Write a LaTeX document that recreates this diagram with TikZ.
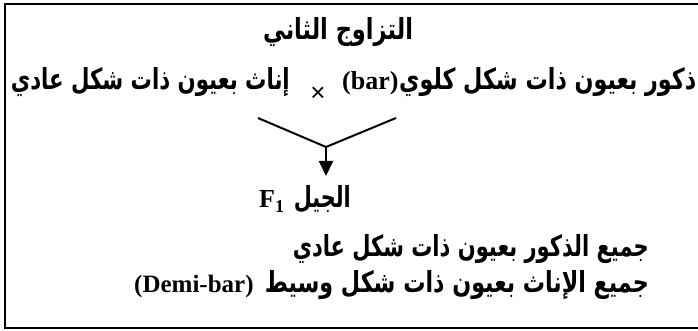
\documentclass[tikz,border=0pt]{standalone}
\usepackage{fontspec}
\usepackage{graphicx}
\usetikzlibrary{arrows.meta}
\TeXXeTstate=1
\setmainfont{Liberation Serif}
\newfontfamily\arbfont[Script=Arabic]{DejaVu Sans}
\newfontfamily\crossfont{Liberation Sans}
\newcommand{\fitw}[2]{\resizebox{#1}{\height}{#2}}
\newcommand{\artxt}[1]{{\arbfont\bfseries\beginR #1\endR}}
\begin{document}
\begin{tikzpicture}[x=1pt,y=-1pt,
  artext/.style={inner sep=0pt, font=\fontsize{29}{32}\selectfont},
  latext/.style={inner sep=0pt, font=\fontsize{26}{29}\selectfont\bfseries},
  thick line/.style={line width=2pt}]
\useasboundingbox (0,0) rectangle (698,331);
\clip (0,0) rectangle (698,331);
\fill[white] (0,0) rectangle (698,331);
% frame
\draw[thick line] (705,4) -- (4.5,4) -- (4.5,328) -- (705,328);
% title
\node[artext,anchor=base] (title) at (338,40) {\fitw{150pt}{\artxt{التزاوج الثاني}}};
% cross line
\node[artext,anchor=base east] (fem) at (290,90) {\fitw{279pt}{\artxt{إناث بعيون ذات شكل عادي}}};
\node[inner sep=0pt,font=\crossfont\fontsize{26}{26}\selectfont] (cross) at (318,94) {×};
\node[latext,anchor=base west] (bar) at (342,90) {(bar)};
\node[artext,anchor=base west] (male) at (399,90) {\fitw{297pt}{\artxt{ذكور بعيون ذات شكل كلوي}}};
% vee and arrow
\coordinate (vl) at (258,118);
\coordinate (vr) at (396,118);
\coordinate (vv) at (326,147);
\coordinate (tip) at (326,176);
\draw[thick line] (vl) -- (vv) -- (vr);
\draw[thick line,-{Triangle[width=14pt,length=15pt]}] (vv) -- (tip);
% F1
\node[latext,anchor=base west] (f1) at (259,207) {F\raisebox{-0.22em}{\fontsize{18}{18}\selectfont 1}};
\node[artext,anchor=base east] (gen) at (351,207) {\fitw{57pt}{\artxt{الجيل}}};
% results
\node[artext,anchor=base east] (l4) at (649,256) {\fitw{356pt}{\artxt{جميع الذكور بعيون ذات شكل عادي}}};
\node[artext,anchor=base east] (l5) at (649,292) {\fitw{384pt}{\artxt{جميع الإناث بعيون ذات شكل وسيط}}};
\node[latext,anchor=base west,font=\fontsize{25}{28}\selectfont\bfseries] (demi) at (134,292) {(Demi-bar)};
\end{tikzpicture}
\end{document}
